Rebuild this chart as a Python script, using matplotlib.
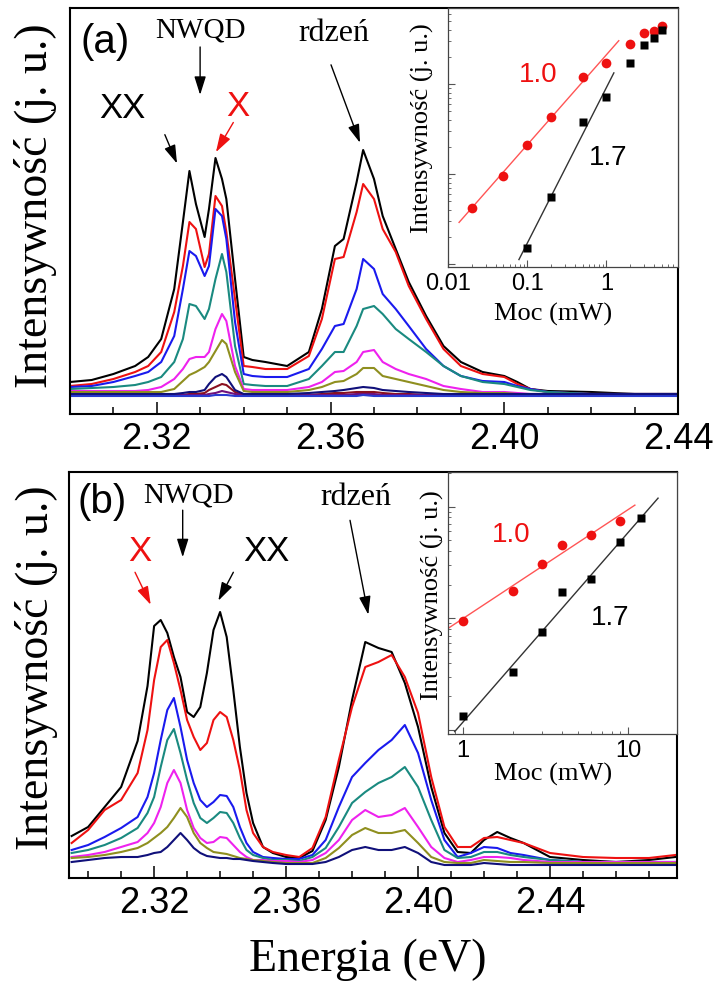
import matplotlib
matplotlib.use('Agg')
import matplotlib.pyplot as plt
from matplotlib.ticker import MultipleLocator, FixedLocator, LogLocator, NullFormatter

plt.rcParams['font.family'] = ['Liberation Sans', 'DejaVu Sans']
SERIF = ['Liberation Serif', 'DejaVu Serif']

# ---------------- panel (a) spectra ----------------
E_a = [2.300, 2.305, 2.310, 2.315, 2.318, 2.321, 2.324, 2.326, 2.3275, 2.329, 2.331, 2.332,
       2.3335, 2.335, 2.336, 2.338, 2.340, 2.342, 2.345, 2.350, 2.355, 2.358, 2.361, 2.363,
       2.366, 2.3675, 2.370, 2.372, 2.375, 2.378, 2.382, 2.386, 2.390, 2.395, 2.400, 2.403,
       2.406, 2.410, 2.420, 2.430, 2.440]
black_a = [32, 34, 40, 48, 57, 75, 125, 192, 243, 210, 177, 205, 256, 235, 215, 135, 57, 54, 52, 48,
           62, 105, 168, 175, 232, 264, 235, 198, 165, 132, 98, 68, 52, 42, 38, 32, 25, 23, 22, 20, 20]
red_a = [28, 30, 35, 42, 48, 62, 102, 148, 192, 185, 147, 160, 218, 208, 182, 115, 48, 47, 45, 45,
         58, 95, 155, 157, 202, 230, 215, 185, 162, 128, 95, 65, 48, 40, 37, 30, 25, 22, 20, 20, 20]
blue_a = [27, 28, 32, 38, 42, 52, 78, 125, 163, 158, 138, 148, 205, 198, 175, 92, 40, 38, 37, 37,
          45, 65, 88, 90, 125, 155, 145, 120, 105, 88, 65, 48, 38, 33, 32, 28, 25, 22, 20, 20, 20]
teal_a = [25, 26, 27, 29, 32, 37, 52, 75, 110, 108, 95, 105, 135, 160, 142, 68, 30, 29, 28, 28,
          35, 48, 62, 62, 88, 105, 108, 100, 85, 75, 62, 48, 38, 32, 30, 27, 24, 22, 20, 20, 20]
magenta_a = [23, 23, 23, 23, 24, 27, 35, 45, 55, 57, 57, 62, 85, 100, 93, 48, 25, 24, 24, 24,
             27, 32, 42, 43, 52, 62, 64, 52, 45, 40, 35, 28, 25, 22, 22, 21, 20, 20, 20, 20, 20]
olive_a = [22, 22, 22, 22, 22, 22, 25, 33, 39, 42, 47, 52, 63, 74, 70, 42, 23, 22, 22, 22,
           24, 27, 32, 33, 40, 46, 46, 38, 35, 32, 28, 24, 22, 21, 21, 20, 20, 20, 20, 20, 20]
navy_a = [20, 20, 20, 20, 20, 20, 20, 21, 22, 22, 24, 30, 37, 40, 37, 24, 20, 20, 20, 20,
          21, 22, 23, 24, 26, 27, 26, 24, 23, 22, 21, 20, 20, 20, 20, 20, 20, 20, 20, 20, 20]
wine_a = [19, 19, 19, 19, 19, 19, 19, 19, 20, 20, 21, 24, 27, 30, 29, 22, 19, 19, 19, 19,
          19, 20, 21, 21, 22, 22, 22, 21, 20, 20, 19, 19, 19, 19, 19, 19, 19, 19, 19, 19, 19]
purple_a = [19, 19, 19, 19, 19, 19, 19, 19, 19, 19, 19, 20, 21, 23, 22, 20, 19, 19, 19, 19,
            19, 19, 19, 19, 20, 20, 20, 19, 19, 19, 19, 19, 19, 19, 19, 19, 19, 19, 19, 19, 19]
royal_a = [18, 18, 18, 18, 18, 18, 18, 18, 18, 18, 18, 18, 19, 19, 19, 18, 18, 18, 18, 18,
           18, 18, 18, 18, 18, 19, 18, 18, 18, 18, 18, 18, 18, 18, 18, 18, 18, 18, 18, 18, 18]

# ---------------- panel (b) spectra ----------------
E_b = [2.295, 2.300, 2.305, 2.310, 2.315, 2.318, 2.320, 2.322, 2.324, 2.326, 2.328, 2.330, 2.332,
       2.334, 2.336, 2.338, 2.340, 2.342, 2.344, 2.346, 2.348, 2.350, 2.353, 2.356, 2.360, 2.364,
       2.368, 2.372, 2.376, 2.380, 2.384, 2.388, 2.392, 2.396, 2.400, 2.404, 2.408, 2.412, 2.416,
       2.420, 2.424, 2.428, 2.432, 2.440, 2.450, 2.460, 2.470, 2.478]
black_b = [40, 49, 69, 89, 135, 190, 250, 256, 243, 219, 199, 164, 159, 169, 203, 246, 264, 239, 186, 129,
           83, 53, 29, 23, 19, 18, 25, 56, 109, 176, 234, 228, 224, 193, 149, 89, 43, 24, 23, 36,
           44, 38, 33, 19, 16, 14, 16, 19]
red_b = [33, 46, 66, 76, 103, 146, 196, 229, 236, 213, 186, 156, 139, 126, 133, 156, 164, 159, 136, 106,
         66, 43, 29, 24, 21, 19, 28, 59, 116, 169, 209, 214, 221, 199, 163, 99, 49, 29, 29, 38,
         39, 36, 33, 23, 19, 18, 18, 21]
blue_b = [26, 31, 39, 48, 59, 79, 103, 136, 166, 178, 149, 116, 93, 76, 69, 74, 81, 80, 69, 49,
          33, 24, 19, 18, 17, 17, 21, 36, 69, 99, 113, 126, 136, 151, 123, 76, 36, 19, 23, 29,
          28, 23, 21, 16, 14, 14, 14, 14]
teal_b = [23, 26, 31, 38, 48, 63, 79, 109, 136, 147, 123, 96, 73, 58, 53, 58, 64, 63, 53, 38,
          26, 21, 18, 16, 16, 15, 19, 28, 49, 73, 84, 93, 99, 109, 89, 56, 26, 18, 19, 24,
          24, 21, 19, 16, 14, 14, 14, 14]
magenta_b = [19, 21, 24, 29, 34, 43, 53, 69, 93, 106, 93, 66, 48, 38, 33, 34, 39, 38, 31, 24,
             19, 16, 16, 15, 15, 14, 16, 23, 36, 56, 66, 59, 61, 68, 49, 29, 18, 14, 16, 19,
             19, 18, 16, 14, 14, 14, 14, 14]
olive_b = [18, 19, 21, 24, 28, 33, 38, 43, 49, 58, 68, 59, 43, 33, 28, 24, 23, 22, 20, 18,
           17, 16, 15, 14, 13, 13, 13, 18, 28, 41, 48, 43, 43, 46, 33, 19, 14, 13, 13, 16,
           15, 14, 14, 13, 13, 13, 13, 13]
navy_b = [14, 16, 18, 19, 19, 21, 23, 24, 29, 36, 43, 36, 28, 23, 20, 19, 18, 18, 17, 17,
          16, 15, 14, 13, 12, 12, 12, 14, 19, 26, 29, 26, 26, 29, 23, 14, 11, 11, 11, 13,
          12, 11, 11, 11, 11, 11, 11, 11]

# ---------------- insets (power dependence) ----------------
P_a_X = [0.02, 0.05, 0.1, 0.2, 0.5, 1, 2, 3, 4, 5]
I_a_X = [0.42, 0.94, 2.1, 4.3, 11.9, 17.1, 27.8, 36.9, 39.1, 43.7]
P_a_XX = [0.1, 0.2, 0.5, 1, 2, 3, 4, 5]
I_a_XX = [0.151, 0.55, 3.75, 7.2, 17.1, 26.9, 32.4, 40.1]
fit_a_X_P = [0.0138, 1.43]
fit_a_X_I = [0.29, 30.3]
fit_a_XX_P = [0.0786, 1.24]
fit_a_XX_I = [0.112, 13.3]

P_b_X = [1, 2, 3, 4, 6, 9]
I_b_X = [0.95, 1.76, 3.04, 4.54, 5.57, 7.44]
P_b_XX = [1, 2, 3, 4, 6, 9, 12]
I_b_XX = [0.132, 0.333, 0.76, 1.71, 2.25, 4.79, 7.97]
fit_b_X_P = [0.81, 11.0]
fit_b_X_I = [0.81, 10.3]
fit_b_XX_P = [0.89, 15.2]
fit_b_XX_I = [0.0966, 11.9]

xticks_main = [2.32, 2.36, 2.40, 2.44]
xtick_labels_main = ['2.32', '2.36', '2.40', '2.44']

C = {'black': 'black', 'red': '#ee1111', 'blue': '#1a1aee', 'teal': '#1a8a80',
     'magenta': '#ee22ee', 'olive': '#8f8f1f', 'navy': '#10107a', 'wine': '#8a1020',
     'purple': '#70107a', 'royal': '#2a3ad0'}

fig = plt.figure(figsize=(7.14, 9.86), dpi=100)


def main_axes(rect, E, series, xlim, ylim):
    ax = fig.add_axes(rect)
    for y, c in series:
        ax.plot(E, y, color=C[c], lw=1.5, solid_joinstyle='round')
    ax.set_xlim(*xlim)
    ax.set_ylim(*ylim)
    ax.xaxis.set_major_locator(FixedLocator(xticks_main))
    ax.set_xticklabels(xtick_labels_main)
    ax.xaxis.set_minor_locator(MultipleLocator(0.01))
    ax.tick_params(axis='x', which='major', direction='in', length=9, width=1.1,
                   labelsize=26, pad=6)
    ax.tick_params(axis='x', which='minor', direction='in', length=5, width=1.1)
    ax.set_yticks([])
    for sp in ax.spines.values():
        sp.set_linewidth(1.5)
    return ax


def inset_axes(rect, xlim, ylim, xt, xtl):
    ins = fig.add_axes(rect)
    ins.set_facecolor('white')
    ins.set_xscale('log')
    ins.set_yscale('log')
    ins.set_xlim(*xlim)
    ins.set_ylim(*ylim)
    ins.set_xticks(xt)
    ins.set_xticklabels(xtl)
    ins.xaxis.set_minor_locator(LogLocator(base=10, subs=range(2, 10), numticks=20))
    ins.xaxis.set_minor_formatter(NullFormatter())
    ins.yaxis.set_major_formatter(NullFormatter())
    ins.yaxis.set_minor_formatter(NullFormatter())
    ins.yaxis.set_minor_locator(LogLocator(base=10, subs=range(2, 10), numticks=20))
    ins.tick_params(which='major', direction='in', length=5, width=0.8, labelsize=17,
                    pad=4, color='#555555')
    ins.tick_params(which='minor', direction='in', length=2.5, width=0.6, color='#555555')
    for sp in ins.spines.values():
        sp.set_linewidth(0.9)
        sp.set_color('#444444')
    return ins


arrow_k = dict(arrowstyle='-|>,head_length=0.7,head_width=0.22', color='black', lw=1.0,
               shrinkA=0, shrinkB=0, mutation_scale=16)
arrow_r = dict(arrowstyle='-|>,head_length=0.7,head_width=0.22', color='#ee1111', lw=1.0,
               shrinkA=0, shrinkB=0, mutation_scale=16)

# ---------- panel (a) ----------
ax1 = main_axes([70 / 714, 1 - 414 / 986, 608 / 714, 406 / 986], E_a,
                [(black_a, 'black'), (red_a, 'red'), (blue_a, 'blue'), (teal_a, 'teal'),
                 (magenta_a, 'magenta'), (olive_a, 'olive'), (wine_a, 'wine'),
                 (purple_a, 'purple'), (royal_a, 'royal'), (navy_a, 'navy')],
                (2.30, 2.44), (0, 406))
ax1.text(-0.056, 0.513, 'Intensywność (j. u.)', rotation=90, transform=ax1.transAxes,
         ha='center', va='center', family=SERIF, fontsize=33)
ax1.text(0.057, 0.917, '(a)', transform=ax1.transAxes, ha='center', va='center', fontsize=29)
ax1.text(0.214, 0.944, 'NWQD', transform=ax1.transAxes, ha='center', va='center',
         family=SERIF, fontsize=21)
ax1.annotate('', xy=(0.214, 0.786), xytext=(0.214, 0.904), xycoords='axes fraction',
             arrowprops=arrow_k)
ax1.text(0.0855, 0.752, 'XX', transform=ax1.transAxes, ha='center', va='center', fontsize=25)
ax1.annotate('', xy=(0.176, 0.617), xytext=(0.156, 0.688), xycoords='axes fraction',
             arrowprops=arrow_k)
ax1.text(0.2755, 0.757, 'X', transform=ax1.transAxes, ha='center', va='center', fontsize=25,
         color='#ee1111')
ax1.annotate('', xy=(0.240, 0.645), xytext=(0.2686, 0.718), xycoords='axes fraction',
             arrowprops=arrow_r)
ax1.text(0.4334, 0.938, 'rdzeń', transform=ax1.transAxes, ha='center', va='center',
         family=SERIF, fontsize=23)
ax1.annotate('', xy=(0.477, 0.668), xytext=(0.4293, 0.860), xycoords='axes fraction',
             arrowprops=arrow_k)

ins1 = inset_axes([448 / 714, 1 - 267 / 986, 230 / 714, 259 / 986], (0.01, 8), (0.0926, 70),
                  [0.01, 0.1, 1], ['0.01', '0.1', '1'])
ins1.plot(fit_a_X_P, fit_a_X_I, color='#ff5555', lw=1.0)
ins1.plot(fit_a_XX_P, fit_a_XX_I, color='#333333', lw=1.0)
ins1.plot(P_a_X, I_a_X, 'o', color='#ee1111', ms=7, mec='none')
ins1.plot(P_a_XX, I_a_XX, 's', color='black', ms=5.5, mec='none')
ins1.text(-0.109, 0.537, 'Intensywność (j. u.)', rotation=90, transform=ins1.transAxes,
          ha='center', va='center', family=SERIF, fontsize=19)
ins1.text(0.457, -0.185, 'Moc (mW)', transform=ins1.transAxes, ha='center', va='center',
          family=SERIF, fontsize=19)
ins1.text(0.391, 0.741, '1.0', transform=ins1.transAxes, ha='center', va='center',
          fontsize=20, color='#ee1111')
ins1.text(0.696, 0.421, '1.7', transform=ins1.transAxes, ha='center', va='center',
          fontsize=20, color='black')

# ---------- panel (b) ----------
ax2 = main_axes([69 / 714, 1 - 878 / 986, 608 / 714, 406 / 986], E_b,
                [(black_b, 'black'), (red_b, 'red'), (blue_b, 'blue'), (teal_b, 'teal'),
                 (magenta_b, 'magenta'), (olive_b, 'olive'), (navy_b, 'navy')],
                (2.2942, 2.4785), (-2, 404))
ax2.text(-0.054, 0.518, 'Intensywność (j. u.)', rotation=90, transform=ax2.transAxes,
         ha='center', va='center', family=SERIF, fontsize=33)
ax2.text(0.054, 0.926, '(b)', transform=ax2.transAxes, ha='center', va='center', fontsize=29)
ax2.text(0.197, 0.941, 'NWQD', transform=ax2.transAxes, ha='center', va='center',
         family=SERIF, fontsize=21)
ax2.annotate('', xy=(0.187, 0.790), xytext=(0.187, 0.906), xycoords='axes fraction',
             arrowprops=arrow_k)
ax2.text(0.1168, 0.805, 'X', transform=ax2.transAxes, ha='center', va='center', fontsize=25,
         color='#ee1111')
ax2.annotate('', xy=(0.1344, 0.673), xytext=(0.1086, 0.753), xycoords='axes fraction',
             arrowprops=arrow_r)
ax2.text(0.325, 0.805, 'XX', transform=ax2.transAxes, ha='center', va='center', fontsize=25)
ax2.annotate('', xy=(0.2456, 0.683), xytext=(0.2703, 0.753), xycoords='axes fraction',
             arrowprops=arrow_k)
ax2.text(0.472, 0.936, 'rdzeń', transform=ax2.transAxes, ha='center', va='center',
         family=SERIF, fontsize=23)
ax2.annotate('', xy=(0.4923, 0.6485), xytext=(0.4622, 0.881), xycoords='axes fraction',
             arrowprops=arrow_k)

ins2 = inset_axes([448 / 714, 1 - 734 / 986, 229 / 714, 262 / 986], (0.811, 19.8), (0.092, 20.4),
                  [1, 10], ['1', '10'])
ins2.plot(fit_b_X_P, fit_b_X_I, color='#ff5555', lw=1.0)
ins2.plot(fit_b_XX_P, fit_b_XX_I, color='#333333', lw=1.0)
ins2.plot(P_b_X, I_b_X, 'o', color='#ee1111', ms=7, mec='none')
ins2.plot(P_b_XX, I_b_XX, 's', color='black', ms=5.5, mec='none')
ins2.text(-0.07, 0.531, 'Intensywność (j. u.)', rotation=90, transform=ins2.transAxes,
          ha='center', va='center', family=SERIF, fontsize=19)
ins2.text(0.459, -0.156, 'Moc (mW)', transform=ins2.transAxes, ha='center', va='center',
          family=SERIF, fontsize=19)
ins2.text(0.275, 0.760, '1.0', transform=ins2.transAxes, ha='center', va='center',
          fontsize=20, color='#ee1111')
ins2.text(0.707, 0.443, '1.7', transform=ins2.transAxes, ha='center', va='center',
          fontsize=20, color='black')

fig.text(368 / 714, 1 - 960 / 986, 'Energia (eV)', ha='center', va='center', family=SERIF,
         fontsize=33)

fig.savefig('out.png', dpi=100)
